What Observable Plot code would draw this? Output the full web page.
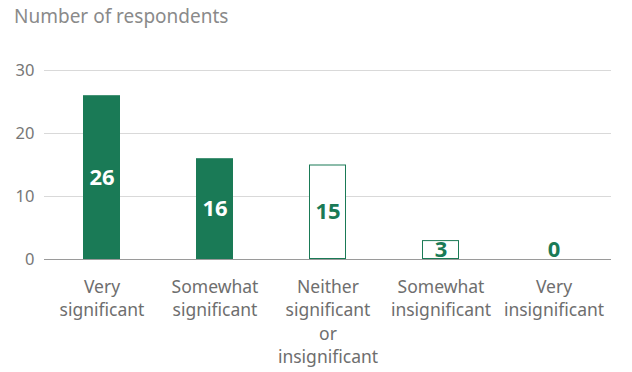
<!DOCTYPE html>
<html>
<head>
<meta charset="utf-8">
<script src="https://cdn.jsdelivr.net/npm/d3@7"></script>
<script src="https://cdn.jsdelivr.net/npm/@observablehq/plot@0.6"></script>
<style>
  html, body { margin: 0; padding: 0; background: #fff; }
  #wrap { width: 632px; font-family: "Noto Sans", sans-serif; }
  #title { height: 40px; box-sizing: border-box; padding: 3px 0 0 14px; font-size: 19px; color: #8a8a8a; }
</style>
</head>
<body>
<div id="wrap">
  <div id="title">Number of respondents</div>
  <div id="chart"></div>
</div>
<script>
const categories = ["Very significant", "Somewhat significant", "Neither significant or insignificant", "Somewhat insignificant", "Very insignificant"];
const tickLabels = ["Very\nsignificant", "Somewhat\nsignificant", "Neither\nsignificant\nor\ninsignificant", "Somewhat\ninsignificant", "Very\ninsignificant"];
const values = [26, 16, 15, 3, 0];
const yTicks = [0, 10, 20, 30];

const green = "#1a7a56";
const highlighted = new Set(categories.slice(0, 2));
const data = categories.map((c, i) => ({category: c, value: values[i], filled: highlighted.has(c)}));
const labelOf = new Map(categories.map((c, i) => [c, tickLabels[i]]));

const chart = Plot.plot({
  width: 632,
  height: 332,
  marginTop: 30,
  marginBottom: 113,
  marginLeft: 44,
  marginRight: 21,
  style: {fontFamily: "'Noto Sans', sans-serif", background: "#fff"},
  x: {domain: categories, paddingInner: 0.67, paddingOuter: 0.34, label: null},
  y: {domain: [0, 30], label: null},
  marks: [
    Plot.gridY(yTicks, {stroke: "#d9d9d9", strokeOpacity: 1}),
    Plot.axisY(yTicks, {tickSize: 0, tickPadding: 10, fontSize: 16.5, fill: "#777", label: null}),
    Plot.axisX({tickSize: 0, tickPadding: 17, fontSize: 17.5, fill: "#6e6e6e", lineHeight: 1.33, tickFormat: d => labelOf.get(d), label: null}),
    Plot.barY(data.filter(d => d.filled), {x: "category", y: "value", fill: green}),
    Plot.barY(data.filter(d => !d.filled && d.value > 0), {x: "category", y: "value", fill: "#fff", stroke: green, strokeWidth: 1, inset: 0.5}),
    Plot.ruleY([0], {stroke: "#9a9a9a"}),
    Plot.text(data, {x: "category", y: d => Math.max(d.value / 2, 1.5), text: d => String(d.value), fill: d => d.filled ? "#fff" : green, fontSize: 22, fontWeight: "bold"})
  ]
});
document.getElementById("chart").appendChild(chart);
</script>
</body>
</html>
